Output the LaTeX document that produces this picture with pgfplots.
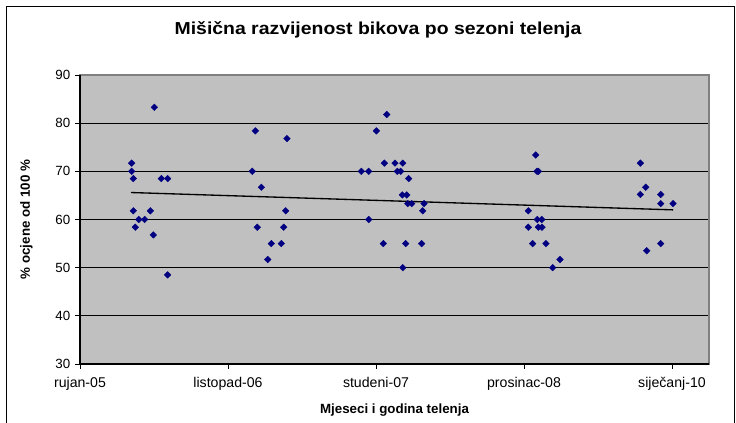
\documentclass[border=0pt]{standalone}
\usepackage{pgfplots}
\pgfplotsset{compat=1.18}
\usepackage{fontspec}
\setmainfont{Liberation Sans}
\definecolor{plotgray}{HTML}{C0C0C0}
\definecolor{framegray}{HTML}{808080}
\definecolor{navy}{HTML}{000080}
\begin{document}
\begin{tikzpicture}
\useasboundingbox (0pt,0pt) rectangle (552pt,317.25pt);
\draw[black,line width=0.75pt] (4.875pt,-5pt) -- (4.875pt,312.375pt) -- (550.5pt,312.375pt) -- (550.5pt,-5pt);
\begin{axis}[
  at={(60pt,44.25pt)}, anchor=south west,
  scale only axis, width=471.75pt, height=216.75pt,
  xmin=0, xmax=55.25, ymin=30, ymax=90,
  xtick={0,13,26,39,52},
  xticklabels={rujan-05,listopad-06,studeni-07,prosinac-08,siječanj-10},
  ytick={30,40,50,60,70,80,90},
  xtick pos=left, ytick pos=left,
  tick align=outside, major tick length=3.75pt,
  tick style={black, line width=0.6pt},
  axis background/.style={fill=plotgray},
  axis line style={draw=framegray, line width=0.9pt},
  ymajorgrids, grid style={black, line width=0.6pt},
  /pgf/number format/assume math mode=true,
  yticklabel style={font=\fontsize{10}{12}\selectfont},
  xticklabel style={font=\fontsize{10.6}{12}\selectfont, yshift=-2.5pt},
  clip=false,
]
\addplot[only marks, mark=square*, mark size=1.75pt, color=navy, mark options={rotate=45, fill=navy, draw=navy, line width=0.3pt}] coordinates {
(6.53,83.3) (4.54,71.7) (4.54,70.0) (4.68,68.5) (7.14,68.5) (7.70,68.5)
(4.68,61.8) (6.18,61.8) (5.16,60.0) (5.68,60.0) (4.86,58.4) (6.44,56.8) (7.70,48.5)
(15.40,78.4) (18.18,76.8) (15.13,70.0) (15.93,66.7) (18.07,61.8) (15.57,58.4)
(17.89,58.4) (16.80,55.0) (17.68,55.0) (16.49,51.7)
(26.94,81.8) (26.03,78.4) (26.73,71.7) (27.67,71.7) (28.35,71.7) (24.71,70.0)
(25.36,70.0) (27.87,70.0) (28.17,70.0) (28.87,68.5) (28.31,65.1) (28.70,65.1)
(28.79,63.3) (29.14,63.3) (30.22,63.3) (30.10,61.8) (25.36,60.0) (26.64,55.0)
(28.61,55.0) (30.01,55.0) (28.35,50.0)
(40.03,73.4) (40.26,70.0) (40.14,70.0) (39.38,61.8) (40.17,60.0) (40.56,60.0)
(39.38,58.4) (40.26,58.4) (40.58,58.4) (39.76,55.0) (40.93,55.0) (42.16,51.7) (41.52,50.0)
(49.22,71.7) (49.69,66.7) (49.22,65.2) (51.01,65.2) (51.01,63.3) (52.09,63.3)
(51.01,55.0) (49.78,53.5)
};
\addplot[black, line width=1pt, no marks] coordinates {(4.48,65.6) (52.1,62.0)};
\draw[black, line width=0.9pt] (rel axis cs:0,1) -- (rel axis cs:0,0) -- (rel axis cs:1,0);
\end{axis}
\node[anchor=base, font=\fontsize{13}{15}\selectfont\bfseries, inner sep=0] at (283.5pt,291.5pt) {\scalebox{1.12}[1]{Mišična razvijenost bikova po sezoni telenja}};
\node[anchor=base, font=\fontsize{10}{12}\selectfont\bfseries, inner sep=0] at (295.875pt,6.75pt) {Mjeseci i godina telenja};
\node[anchor=base, rotate=90, font=\fontsize{10}{12}\selectfont\bfseries, inner sep=0] at (22.5pt,152.625pt) {\% ocjene od 100 \%};
\end{tikzpicture}
\end{document}
